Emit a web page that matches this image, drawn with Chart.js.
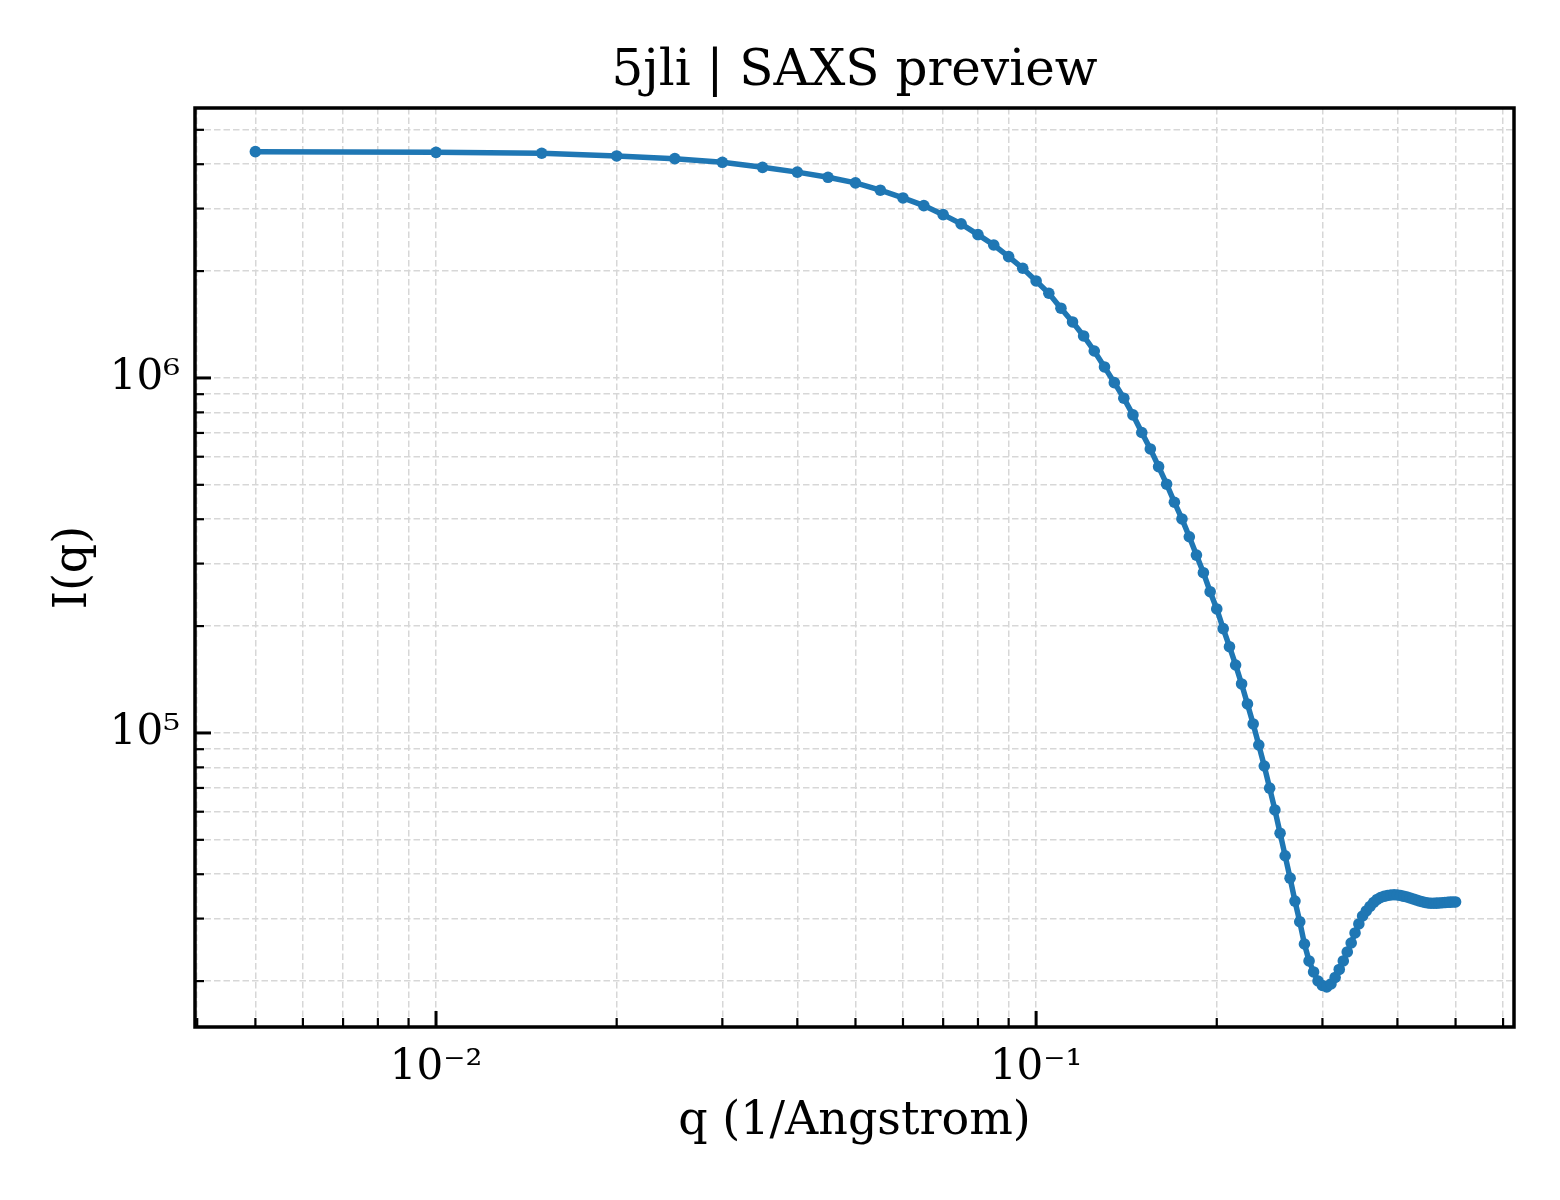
<!DOCTYPE html>
<html>
<head>
<meta charset="utf-8">
<script src="https://cdn.jsdelivr.net/npm/chart.js@4.4.1/dist/chart.umd.min.js"></script>
<style>
html,body{margin:0;padding:0;background:#ffffff;}
#wrap{width:1560px;height:1200px;}
</style>
</head>
<body>
<div id="wrap"><canvas id="c" width="1560" height="1200"></canvas></div>
<script>
// ---- data ----
const qValues = [
  0.005, 0.010, 0.015, 0.020, 0.025, 0.030, 0.035, 0.040, 0.045, 0.050,
  0.055, 0.060, 0.065, 0.070, 0.075, 0.080, 0.085, 0.090, 0.095, 0.100,
  0.105, 0.110, 0.115, 0.120, 0.125, 0.130, 0.135, 0.140, 0.145, 0.150,
  0.155, 0.160, 0.165, 0.170, 0.175, 0.180, 0.185, 0.190, 0.195, 0.200,
  0.205, 0.210, 0.215, 0.220, 0.225, 0.230, 0.235, 0.240, 0.245, 0.250,
  0.255, 0.260, 0.265, 0.270, 0.275, 0.280, 0.285, 0.290, 0.295, 0.300,
  0.305, 0.310, 0.315, 0.320, 0.325, 0.330, 0.335, 0.340, 0.345, 0.350,
  0.355, 0.360, 0.365, 0.370, 0.375, 0.380, 0.385, 0.390, 0.395, 0.400,
  0.405, 0.410, 0.415, 0.420, 0.425, 0.430, 0.435, 0.440, 0.445, 0.450,
  0.455, 0.460, 0.465, 0.470, 0.475, 0.480, 0.485, 0.490, 0.495, 0.500
];
const intensity = [
  4340000, 4320000, 4295000, 4220000, 4147000, 4050000, 3920000, 3800000, 3675000, 3543000,
  3380000, 3214000, 3058000, 2884000, 2716000, 2533000, 2369000, 2196000, 2037000, 1876000,
  1732000, 1572000, 1438000, 1313000, 1191000, 1074000, 970000, 877000, 787000, 702000,
  631000, 562500, 502000, 446600, 400700, 357000, 317000, 282800, 250000, 223500,
  196700, 175000, 155400, 137400, 120700, 106000, 92500, 80700, 69900, 60700,
  52200, 45100, 39000, 33600, 29400, 25440, 22790, 21220, 20010, 19440,
  19250, 19630, 20480, 21570, 22790, 24160, 25610, 27330, 28970, 30510,
  31520, 32450, 33300, 33960, 34400, 34670, 34850, 34970, 35010, 34970,
  34850, 34670, 34510, 34290, 34070, 33850, 33630, 33460, 33300, 33200,
  33140, 33140, 33160, 33200, 33250, 33290, 33340, 33380, 33400, 33420
];
const xTickValues = [0.004,0.005,0.006,0.007,0.008,0.009,
  0.01,0.02,0.03,0.04,0.05,0.06,0.07,0.08,0.09,
  0.1,0.2,0.3,0.4,0.5,0.6];
const xMajorTicks = [0.01, 0.1];
const xTickLabels = ['10⁻²', '10⁻¹'];
const yTickValues = [20000,30000,40000,50000,60000,70000,80000,90000,
  100000,200000,300000,400000,500000,600000,700000,800000,900000,
  1000000,2000000,3000000,4000000,5000000];
const yMajorTicks = [100000, 1000000];
const yTickLabels = ['10⁵', '10⁶'];
const xRange = [0.003966, 0.6257];
const yRange = [14850, 5760000];
const titleText = '5jli | SAXS preview';
const xTitle = 'q (1/Angstrom)';
const yTitle = 'I(q)';

// ---- styling ----
const FONT = "'DejaVu Serif', serif";
const LINE = '#1f77b4';
const GRID = '#d7d7d7';

const framePlugin = {
  id: 'frame',
  afterDraw(chart) {
    const {ctx, chartArea: a, scales} = chart;
    ctx.save();
    ctx.strokeStyle = '#000';
    const xs = scales.x, ys = scales.y;
    xs.ticks.forEach(t => {
      const major = xMajorTicks.includes(t.value);
      const px = xs.getPixelForValue(t.value);
      ctx.lineWidth = major ? 3 : 2.2;
      ctx.beginPath();
      ctx.moveTo(px, a.bottom);
      ctx.lineTo(px, a.bottom - (major ? 16 : 9));
      ctx.stroke();
    });
    ys.ticks.forEach(t => {
      const major = yMajorTicks.includes(t.value);
      const py = ys.getPixelForValue(t.value);
      ctx.lineWidth = major ? 3 : 2.2;
      ctx.beginPath();
      ctx.moveTo(a.left, py);
      ctx.lineTo(a.left + (major ? 16 : 9), py);
      ctx.stroke();
    });
    ctx.lineWidth = 3.5;
    ctx.strokeRect(a.left, a.top, a.right - a.left, a.bottom - a.top);
    ctx.restore();
  }
};

new Chart(document.getElementById('c').getContext('2d'), {
  type: 'line',
  data: {
    datasets: [{
      data: qValues.map((q, i) => ({x: q, y: intensity[i]})),
      borderColor: LINE,
      backgroundColor: LINE,
      borderWidth: 5.5,
      pointRadius: 5.8,
      pointHoverRadius: 5.8,
      pointBackgroundColor: LINE,
      pointBorderWidth: 0,
      tension: 0,
      fill: false
    }]
  },
  options: {
    responsive: false,
    animation: false,
    devicePixelRatio: 1,
    layout: {padding: {left: 0, right: 46, top: 0, bottom: 0}},
    plugins: {
      legend: {display: false},
      tooltip: {enabled: false},
      title: {
        display: true,
        text: titleText,
        fullSize: false,
        color: '#000',
        font: {family: FONT, size: 50, weight: 'normal'},
        padding: {top: 42, bottom: 6}
      }
    },
    scales: {
      x: {
        type: 'logarithmic',
        min: xRange[0],
        max: xRange[1],
        afterBuildTicks: s => { s.ticks = xTickValues.map(v => ({value: v})); },
        afterFit: s => { s.height = 173; },
        ticks: {
          autoSkip: false, maxRotation: 0, minRotation: 0, padding: 16,
          color: '#000', font: {family: FONT, size: 42},
          callback: v => { const k = xMajorTicks.indexOf(v); return k >= 0 ? xTickLabels[k] : ''; }
        },
        grid: {color: GRID, lineWidth: 1.5, drawTicks: false},
        border: {display: false, dash: [6.5, 3]},
        title: {display: true, text: xTitle, color: '#000', font: {family: FONT, size: 46}, padding: {top: 0, bottom: 50}}
      },
      y: {
        type: 'logarithmic',
        min: yRange[0],
        max: yRange[1],
        afterBuildTicks: s => { s.ticks = yTickValues.map(v => ({value: v})); },
        afterFit: s => { s.width = 195; },
        ticks: {
          autoSkip: false, padding: 15,
          color: '#000', font: {family: FONT, size: 42},
          callback: v => { const k = yMajorTicks.indexOf(v); return k >= 0 ? yTickLabels[k] : ''; }
        },
        grid: {color: GRID, lineWidth: 1.5, drawTicks: false},
        border: {display: false, dash: [6.5, 3]},
        title: {display: true, text: yTitle, color: '#000', font: {family: FONT, size: 46}, padding: {top: 46, bottom: 0}}
      }
    }
  },
  plugins: [framePlugin]
});
</script>
</body>
</html>
